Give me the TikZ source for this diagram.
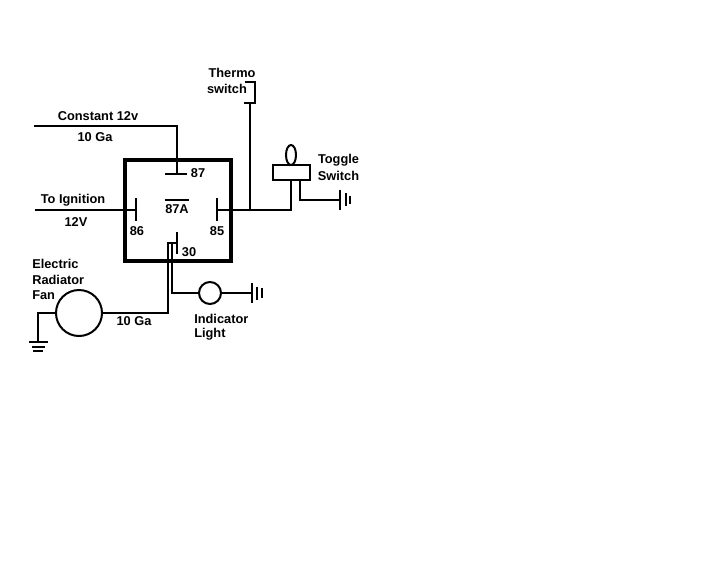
\documentclass[tikz,border=0pt]{standalone}
\usepackage{fontspec}
\setmainfont{Liberation Sans}
\usetikzlibrary{shapes.geometric}

\tikzset{
	wire/.style = {line width = 1.5pt},
	relaybox/.style = {draw, line width = 2.8pt, inner sep = 0, outer sep = 0, minimum width = 79.5pt, minimum height = 75.75pt},
	part/.style = {draw, line width = 1.5pt, inner sep = 0, outer sep = 0},
	lbl/.style = {inner sep = 0, font = \bfseries\fontsize{9.6}{11}\selectfont, text = black}
}

\begin{document}
\begin{tikzpicture}[x = 0.75pt, y = -0.75pt]

	\useasboundingbox (0, 0) rectangle (703, 569);

	% Relay

	\node [relaybox] (relay) at (178, 210.5) {};

	% Terminals of the relay

	\coordinate (t87l) at (165, 174);
	\coordinate (t87r) at (187, 174);
	\coordinate (t86a) at (136, 198);
	\coordinate (t86b) at (136, 221);
	\coordinate (t86m) at (136, 210);
	\coordinate (t85a) at (217, 198);
	\coordinate (t85b) at (217, 221);
	\coordinate (t85m) at (217, 210);
	\coordinate (t30a) at (177, 232);
	\coordinate (t30b) at (177, 254);
	\coordinate (t30m) at (177, 243);
	\draw [wire] (t87l) -- (t87r);
	\draw [wire] (t86a) -- (t86b);
	\draw [wire] (t85a) -- (t85b);
	\draw [wire] (t30a) -- (t30b);

	% Constant feed and ignition feed

	\coordinate (feed) at (34, 126);
	\coordinate (ign) at (35, 210);
	\coordinate (t87m) at (177, 174);
	\draw [wire] (feed) -| (t87m);
	\draw [wire] (ign) -- (t86m);

	% Toggle switch

	\node [part, minimum width = 27.75pt, minimum height = 11.25pt] (toggle) at (291.5, 172.5) {};
	\node [part, ellipse, minimum width = 7.5pt, minimum height = 15pt] (lever) at (291, 155) {};
	\coordinate (tjoin) at (291, 210);
	\coordinate (tout) at (300, 180);
	\coordinate (gnda) at (340, 199.5);
	\draw [wire] (t85m) -- (tjoin) -- (tjoin |- toggle.south);
	\draw [wire] (tout) |- (gnda);

	% Ground of the toggle switch

	\foreach \x/\h in {340/10, 345.5/6.5, 350/4}
		\draw [wire] (\x, 199.5 - \h) -- (\x, 199.5 + \h);

	% Thermo switch

	\coordinate (tsa) at (250, 210);
	\coordinate (tsb) at (250, 103);
	\coordinate (tsc) at (244, 103);
	\coordinate (tsd) at (255, 103);
	\coordinate (tse) at (255, 82);
	\coordinate (tsf) at (245, 82);
	\draw [wire] (tsa) -- (tsb);
	\draw [wire] (tsc) -- (tsd) -- (tse) -- (tsf);

	% Electric fan

	\node [part, circle, minimum size = 34.5pt] (fan) at (79, 313) {};
	\coordinate (fwire) at (168, 243);
	\coordinate (gndb) at (38, 342);
	\draw [wire] (t30m) -- (fwire) |- (fan.east);
	\draw [wire] (fan.west) -| (gndb);
	\foreach \y/\a/\b in {342/29/48, 346.5/32/45, 351/33/43}
		\draw [wire] (\a, \y) -- (\b, \y);

	% Indicator light

	\node [part, circle, minimum size = 16.5pt] (lamp) at (210, 293) {};
	\coordinate (lwire) at (172, 243);
	\coordinate (gndc) at (252, 293);
	\draw [wire] (lwire) |- (lamp.west);
	\draw [wire] (lamp.east) -- (gndc);
	\foreach \x/\h in {252/10, 257/6.5, 262/5}
		\draw [wire] (\x, 293 - \h) -- (\x, 293 + \h);

	% Labels

	\node [lbl] (lconst) at (98, 116.5) {Constant 12v};
	\node [lbl] (lga) at (95, 137.5) {10 Ga};
	\node [lbl] (lign) at (73, 200.5) {To Ignition};
	\node [lbl] (ltwelve) at (76, 222.5) {12V};
	\node [lbl] (lthermo) at (232, 72.5) {Thermo};
	\node [lbl] (lswitch) at (227, 88.5) {switch};
	\node [lbl] (ltoggle) at (338.5, 160) {Toggle};
	\node [lbl] (lsw) at (338.5, 175.5) {Switch};
	\node [lbl] (lb87) at (198, 173.5) {87};
	\node [lbl] (lb87a) at (177, 209) {87A};
	\node [lbl] (lb86) at (137, 231) {86};
	\node [lbl] (lb85) at (217, 231) {85};
	\node [lbl] (lb30) at (189, 252) {30};
	\node [lbl, anchor = west] (lelec) at (32, 263.5) {Electric};
	\node [lbl, anchor = west] (lrad) at (32, 279.5) {Radiator};
	\node [lbl, anchor = west] (lfan) at (32, 295.5) {Fan};
	\node [lbl] (lfga) at (134, 321.5) {10 Ga};
	\node [lbl, anchor = west] (lind) at (194, 318.5) {Indicator};
	\node [lbl, anchor = west] (llight) at (194, 334.5) {Light};

	% Bar over 87A

	\draw [line width = 1.2pt] (lb87a.north west) ++(0, -4.5) coordinate (bara) -- (bara -| lb87a.north east);

\end{tikzpicture}
\end{document}
